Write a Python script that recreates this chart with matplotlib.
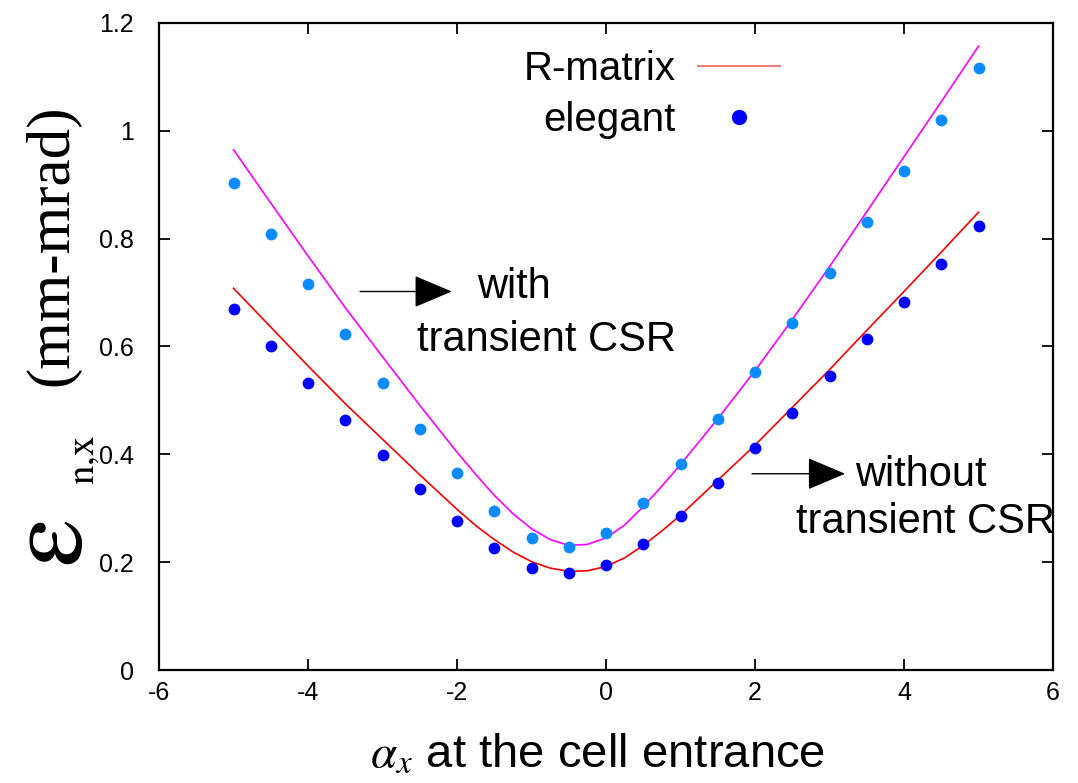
import matplotlib
matplotlib.use('Agg')
import matplotlib.pyplot as plt
from matplotlib.lines import Line2D

plt.rcParams['font.family'] = ['Liberation Sans', 'DejaVu Sans']
plt.rcParams['mathtext.fontset'] = 'stix'
plt.rcParams['axes.unicode_minus'] = False

# elegant tracking results, alpha_x at the cell entrance
alpha_pts = [-5, -4.5, -4, -3.5, -3, -2.5, -2, -1.5, -1, -0.5, 0,
             0.5, 1, 1.5, 2, 2.5, 3, 3.5, 4, 4.5, 5]
elegant_csr = [0.904, 0.809, 0.716, 0.623, 0.533, 0.447, 0.365, 0.295, 0.245, 0.229, 0.254,
               0.309, 0.382, 0.465, 0.553, 0.644, 0.737, 0.830, 0.925, 1.020, 1.117]
elegant_nocsr = [0.670, 0.601, 0.532, 0.464, 0.398, 0.336, 0.277, 0.226, 0.190, 0.179, 0.195,
                 0.234, 0.286, 0.346, 0.411, 0.476, 0.545, 0.614, 0.683, 0.753, 0.824]

# R-matrix calculation (finer sampling around the minimum)
alpha_line = [-5, -4.5, -4, -3.5, -3, -2.5, -2, -1.75, -1.5, -1.25, -1, -0.75, -0.5, -0.25,
              0, 0.25, 0.5, 0.75, 1, 1.5, 2, 2.5, 3, 3.5, 4, 4.5, 5]
rmat_csr = [0.965, 0.866, 0.768, 0.672, 0.581, 0.491, 0.404, 0.363, 0.324, 0.290, 0.262, 0.242,
            0.231, 0.233, 0.245, 0.269, 0.303, 0.341, 0.381, 0.466, 0.555, 0.650, 0.748, 0.850,
            0.952, 1.054, 1.157]
rmat_nocsr = [0.708, 0.636, 0.564, 0.494, 0.428, 0.362, 0.298, 0.268, 0.242, 0.219, 0.201, 0.189,
              0.183, 0.184, 0.192, 0.208, 0.231, 0.258, 0.287, 0.352, 0.417, 0.487, 0.557, 0.630,
              0.702, 0.775, 0.849]

xticks = [-6, -4, -2, 0, 2, 4, 6]
yticks = [0, 0.2, 0.4, 0.6, 0.8, 1, 1.2]
ytick_labels = ['0', '0.2', '0.4', '0.6', '0.8', '1', '1.2']

W, H = 1078, 783
fig = plt.figure(figsize=(W / 100, H / 100), dpi=100)
ax = fig.add_axes([159 / W, 1 - 670 / H, (1053 - 159) / W, (670 - 23) / H])

ax.plot(alpha_line, rmat_csr, color='#ff00ff', lw=1.2)
ax.plot(alpha_line, rmat_nocsr, color='#ff0000', lw=1.2)
ax.plot(alpha_pts, elegant_csr, 'o', color='#0a8cff', ms=8.5, mec='none')
ax.plot(alpha_pts, elegant_nocsr, 'o', color='#0000ff', ms=8.5, mec='none')

ax.set_xlim(-6, 6)
ax.set_ylim(0, 1.2)
ax.set_xticks(xticks)
ax.set_yticks(yticks)
ax.set_yticklabels(ytick_labels)
ax.tick_params(direction='in', length=8, width=1.3, top=True, right=True, labelsize=18)
ax.tick_params(axis='x', pad=8)
ax.tick_params(axis='y', pad=18)
for s in ax.spines.values():
    s.set_linewidth(1.6)

handles = [Line2D([], [], color='#f07878', lw=1.4),
           Line2D([], [], ls='none', marker='o', color='#0000ff', ms=11, mec='none')]
ax.legend(handles, ['R-matrix', 'elegant'], loc='upper right',
          bbox_to_anchor=(0.695, 0.958), frameon=False, markerfirst=False,
          fontsize=29, handlelength=2.05, handletextpad=0.55,
          labelspacing=0.32, borderpad=0, borderaxespad=0)

arrow = dict(arrowstyle='-|>,head_length=0.9,head_width=0.38', mutation_scale=27,
             color='black', lw=1.0, shrinkA=0, shrinkB=0)
ax.annotate('', xy=(-2.07, 0.702), xytext=(-3.30, 0.702), arrowprops=arrow)
ax.text(-1.73, 0.711, 'with', fontsize=30, va='center', ha='left')
ax.text(-2.54, 0.612, 'transient CSR', fontsize=30, va='center', ha='left')

ax.annotate('', xy=(3.21, 0.364), xytext=(1.96, 0.364), arrowprops=arrow)
ax.text(3.34, 0.362, 'without', fontsize=30, va='center', ha='left')
ax.text(2.55, 0.275, 'transient CSR', fontsize=30, va='center', ha='left')

ax.set_xlabel(r'$\alpha_x$ at the cell entrance', fontsize=34)
ax.xaxis.set_label_coords(0.5 - 8 / 894, -0.097)

# y axis label built from pieces: large epsilon, roman subscript, units
serif = ['Liberation Serif', 'DejaVu Serif']
fig.text(53 / W, 1 - 543 / H, r'$\mathrm{\varepsilon}$', fontsize=80,
         rotation=90, ha='center', va='center')
fig.text(84 / W, 1 - 460 / H, r'$\mathrm{n{,}x}$', fontsize=28,
         rotation=90, ha='center', va='center')
fig.text(52 / W, 1 - 245 / H, '(mm-mrad)', family=serif, fontsize=44,
         rotation=90, ha='center', va='center')

fig.savefig('out.png', dpi=100)
